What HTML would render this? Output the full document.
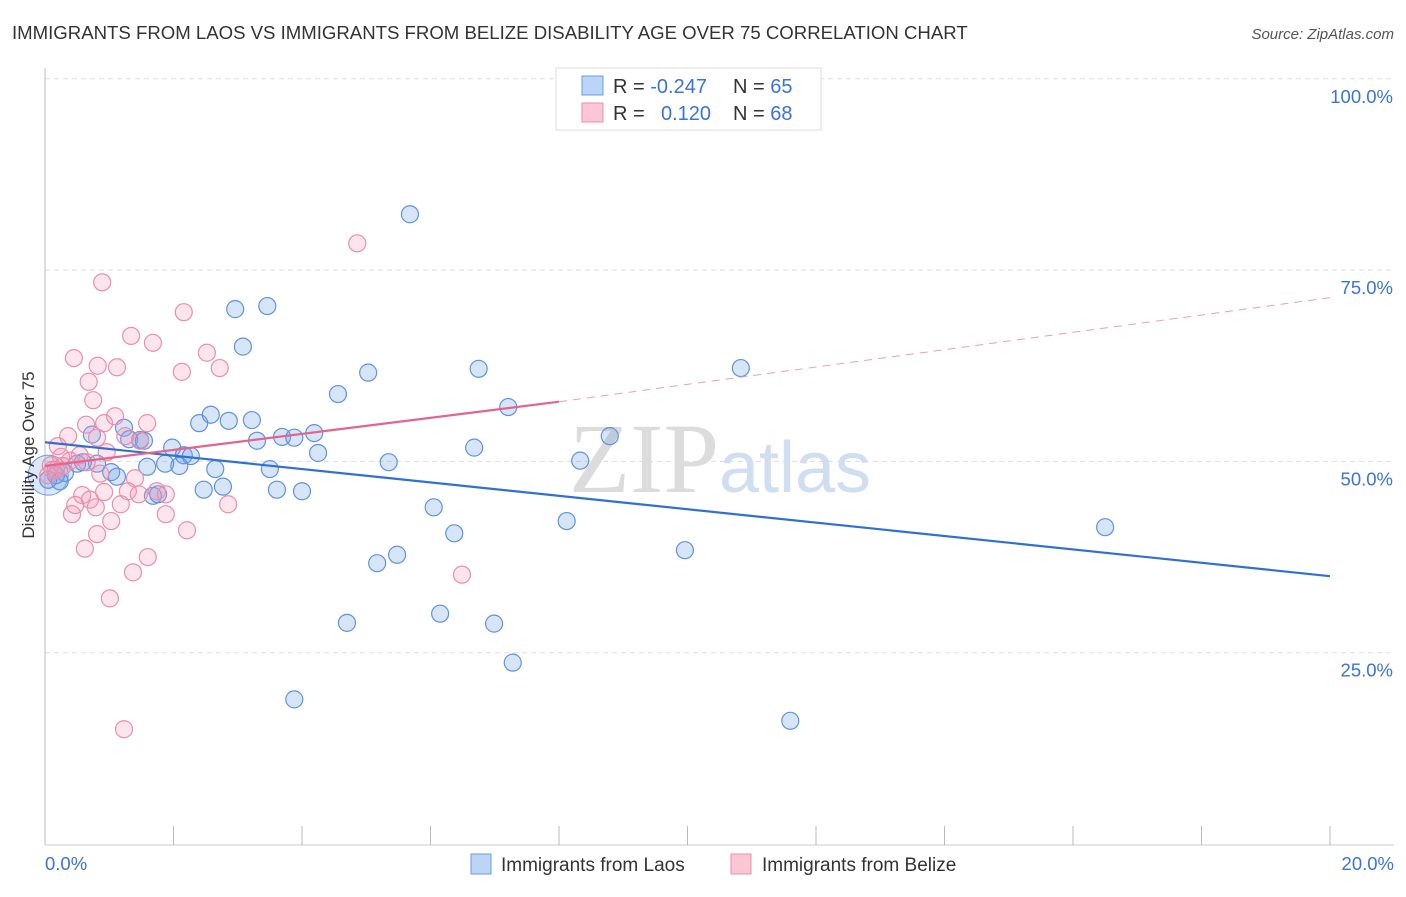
<!DOCTYPE html>
<html><head><meta charset="utf-8"><style>
body{margin:0;background:#fff;font-family:"Liberation Sans",sans-serif;}
svg text{font-family:"Liberation Sans",sans-serif;}
</style></head><body>
<svg id="chart" width="1406" height="892">
<text x="12" y="39" font-size="18.6" fill="#333">IMMIGRANTS FROM LAOS VS IMMIGRANTS FROM BELIZE DISABILITY AGE OVER 75 CORRELATION CHART</text>
<text x="1394" y="39" font-size="15" fill="#555" font-style="italic" text-anchor="end">Source: ZipAtlas.com</text>
<text x="720" y="492" font-size="100" fill="#ddd" text-anchor="middle" font-family="Liberation Serif"><tspan fill="#dcdcdc" font-family="Liberation Serif">ZIP</tspan><tspan fill="#d0def2" font-family="Liberation Sans" font-size="72">atlas</tspan></text>
<g id="grid"></g>
<g id="axes"></g>
<g id="marks"></g>
<text transform="translate(34,455) rotate(-90)" font-size="17" fill="#333" text-anchor="middle">Disability Age Over 75</text>
<g>
<rect x="556" y="68" width="265" height="62" fill="#fff" stroke="#ddd"/>
<rect x="582" y="76" width="21" height="19" fill="#bcd4f5" stroke="#6a9be0"/>
<rect x="582" y="103" width="21" height="19" fill="#fcc6d6" stroke="#ea8fab"/>
<text x="613" y="93" font-size="20" fill="#333">R = <tspan fill="#3a74d4">-0.247</tspan></text>
<text x="733" y="93" font-size="20" fill="#333">N = <tspan fill="#3a74d4">65</tspan></text>
<text x="613" y="120" font-size="20" fill="#333">R = </text>
<text x="661" y="120" font-size="20" fill="#3a74d4">0.120</text>
<text x="733" y="120" font-size="20" fill="#333">N = <tspan fill="#3a74d4">68</tspan></text>
</g>
<g>
<rect x="471" y="854" width="20" height="20" fill="#bcd4f5" stroke="#6a9be0"/>
<text x="501" y="871" font-size="19" fill="#333">Immigrants from Laos</text>
<rect x="731" y="854" width="20" height="20" fill="#fcc6d6" stroke="#ea8fab"/>
<text x="762" y="871" font-size="19" fill="#333">Immigrants from Belize</text>
</g>
</svg>
<script>
const laosX=[5.68,3.46,2.96,3.08,5.03,6.75,10.83,4.56,7.21,2.58,2.40,2.86,3.22,1.23,0.73,4.19,3.69,3.88,3.30,1.31,1.48,1.54,1.98,2.16,2.27,6.68,8.79,4.25,5.35,8.33,3.50,2.65,1.59,2.09,1.87,0.81,0.59,0.50,1.03,1.12,0.31,0.17,0.05,0.23,2.77,2.47,3.61,4.00,1.68,1.76,6.05,8.12,6.37,16.50,9.96,5.48,5.17,4.70,6.15,6.99,7.28,3.88,11.60];
const laosY=[82.3,70.3,69.9,65.0,61.6,62.1,62.2,58.8,57.1,56.1,55.0,55.3,55.4,54.4,53.5,53.7,53.2,53.1,52.7,52.9,52.8,52.7,51.8,50.8,50.7,51.8,53.3,51.1,49.9,50.1,49.0,49.0,49.3,49.4,49.7,49.7,49.9,49.7,48.6,48.0,48.5,48.2,47.6,47.4,46.7,46.3,46.3,46.1,45.5,45.7,44.0,42.2,40.6,41.4,38.4,37.8,36.7,28.9,30.1,28.8,23.7,18.9,16.1];
const belizeX=[4.86,0.89,2.16,1.34,1.68,0.45,2.52,0.82,1.12,2.13,2.72,0.68,0.75,1.09,0.64,1.59,0.92,0.36,0.81,1.48,0.20,1.25,0.96,0.54,0.25,0.39,0.65,0.09,0.12,0.05,0.86,1.40,0.92,0.58,1.29,1.74,1.46,1.88,0.70,0.79,0.47,0.42,1.18,2.85,1.88,1.03,2.21,0.81,0.62,1.60,1.37,6.49,1.01,1.23,0.28,0.17];
const belizeY=[78.5,73.4,69.5,66.4,65.5,63.5,64.2,62.5,62.3,61.7,62.2,60.4,58.0,55.9,54.8,55.0,55.0,53.3,53.1,52.7,52.0,53.3,51.2,50.8,50.6,50.1,49.9,49.5,48.9,48.2,48.4,47.8,46.0,45.6,46.1,46.1,45.7,45.7,45.0,44.0,44.3,43.1,44.4,44.4,43.1,42.2,41.0,40.5,38.6,37.5,35.5,35.2,32.1,15.0,49.4,48.9];
const laosTrend=[52.5,35.0];
const belizeTrend=[49.4,57.8,71.4];
const belizeSolidEnd=8.0;
const yTicks=[25,50,75,100];
const xTickLabels=["0.0%","20.0%"];

const NS="http://www.w3.org/2000/svg";
const sx=v=>45+v*64.25;
const sy=v=>844-v*7.652;
function mk(tag,attrs,parent){const e=document.createElementNS(NS,tag);for(const k in attrs)e.setAttribute(k,attrs[k]);parent.appendChild(e);return e;}
const grid=document.getElementById('grid'),axes=document.getElementById('axes'),marks=document.getElementById('marks');
yTicks.forEach(t=>{
  const l=mk('line',{x1:45,x2:1394,y1:sy(t),y2:sy(t),stroke:'#ddd','stroke-dasharray':'5,4'},grid);
  
  
  const tx=mk('text',{x:1393,y:sy(t)+24,'font-size':18.5,fill:'#3a74d4','text-anchor':'end'},axes);
  tx.textContent=t.toFixed(1)+'%';
  
  
});
mk('line',{x1:45,x2:45,y1:68,y2:845,stroke:'#bbb'},axes);
mk('line',{x1:45,x2:1394,y1:845,y2:845,stroke:'#ccc'},axes);
for(let i=0;i<=10;i++){const x=sx(i*2);mk('line',{x1:x,x2:x,y1:826,y2:845,stroke:'#bbb'},axes);}
const xl0=mk('text',{x:45,y:870,'font-size':18.5,fill:'#3a74d4'},axes);xl0.textContent=xTickLabels[0];


const xl1=mk('text',{x:1394,y:870,'font-size':18.5,fill:'#3a74d4','text-anchor':'end'},axes);xl1.textContent=xTickLabels[1];



const bg=mk('circle',{cx:sx(0.05),cy:sy(48.2),r:20,fill:'rgba(110,160,235,0.25)',stroke:'#6a9be0','stroke-width':1},marks);


laosX.forEach((x,i)=>{
  const c=mk('circle',{cx:sx(x),cy:sy(laosY[i]),r:8.5,fill:'rgba(110,160,235,0.28)',stroke:'#5f93de','stroke-width':1.2},marks);
  
  
});
belizeX.forEach((x,i)=>{
  const c=mk('circle',{cx:sx(x),cy:sy(belizeY[i]),r:8.5,fill:'rgba(245,150,180,0.25)',stroke:'#ea8fab','stroke-width':1.2},marks);
  
  
});
const lt=mk('line',{x1:sx(0),y1:sy(laosTrend[0]),x2:sx(20),y2:sy(laosTrend[1]),stroke:'#2f6fd6','stroke-width':2.2},marks);


const bs=mk('line',{x1:sx(0),y1:sy(belizeTrend[0]),x2:sx(belizeSolidEnd),y2:sy(belizeTrend[1]),stroke:'#e5648f','stroke-width':2.2},marks);


const bd=mk('line',{x1:sx(belizeSolidEnd),y1:sy(belizeTrend[1]),x2:sx(20),y2:sy(belizeTrend[2]),stroke:'#e5a0b8','stroke-width':1,'stroke-dasharray':'8,6'},marks);


</script>
</body></html>
